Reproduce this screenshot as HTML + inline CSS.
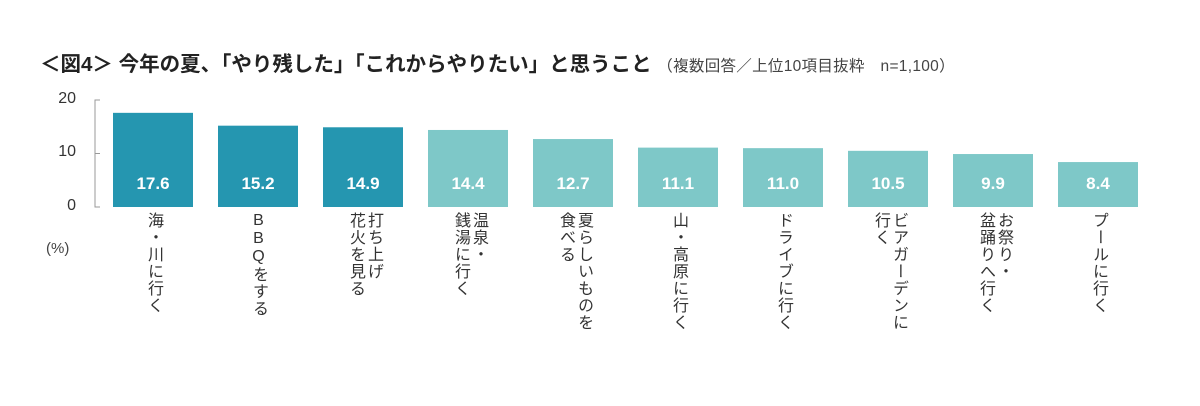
<!DOCTYPE html>
<html><head><meta charset="utf-8"><style>
body{margin:0;background:#fff;width:1200px;height:406px;overflow:hidden;font-family:"Liberation Sans","Noto Sans CJK JP",sans-serif;color:#222}
.t{position:absolute;left:40px;top:47px;font-size:20.5px;font-weight:bold;white-space:nowrap}
.t small{font-size:15.5px;font-weight:normal;color:#444;letter-spacing:0.3px}
.yl{position:absolute;font-size:16px;color:#333;text-align:right;width:40px}
.xl{position:absolute;top:212px;writing-mode:vertical-rl;text-orientation:upright;font-size:16px;line-height:18px;color:#333;letter-spacing:1px}
.v{position:absolute;width:80px;text-align:center;color:#fff;font-weight:bold;font-size:17px;top:174px}
</style></head><body>
<div class="t">＜図4＞ 今年の夏、「やり残した」「これからやりたい」と思うこと <small>（複数回答／上位10項目抜粋　n=1,100）</small></div>
<div class="yl" style="left:36px;top:90px">20</div>
<div class="yl" style="left:36px;top:143px">10</div>
<div class="yl" style="left:36px;top:197px">0</div>
<div style="position:absolute;left:46px;top:240px;font-size:15px;color:#444">(%)</div>
<svg id="c" width="1200" height="406" style="position:absolute;left:0;top:0"></svg>
<div id="lab"></div>
<script>
const categories=["海・川に行く","BBQをする","打ち上げ\n花火を見る","温泉・\n銭湯に行く","夏らしいものを\n食べる","山・高原に行く","ドライブに行く","ビアガーデンに\n行く","お祭り・\n盆踊りへ行く","プールに行く"];
const values=[17.6,15.2,14.9,14.4,12.7,11.1,11.0,10.5,9.9,8.4];
const highlight=[1,1,1,0,0,0,0,0,0,0];
const yTicks=[0,10,20];
const y=v=>207-v*5.35, x=i=>113+i*105;
const svg=document.getElementById('c'),ns="http://www.w3.org/2000/svg";
const ax=document.createElementNS(ns,'path');
ax.setAttribute('d',`M100 ${y(20)} H95 V${y(0)} H100 M95 ${y(10)} H100`);
ax.setAttribute('stroke','#999');ax.setAttribute('fill','none');


svg.appendChild(ax);
const lab=document.getElementById('lab');
values.forEach((v,i)=>{
const r=document.createElementNS(ns,'rect');
r.setAttribute('x',x(i));r.setAttribute('y',y(v));r.setAttribute('width',80);r.setAttribute('height',y(0)-y(v));
r.setAttribute('fill',highlight[i]?'#2596b0':'#7ec8c8');


svg.appendChild(r);
const d=document.createElement('div');d.className='v';d.style.left=x(i)+'px';d.textContent=v.toFixed(1);


lab.appendChild(d);
const l=document.createElement('div');l.className='xl';
const two=categories[i].includes('\n');
l.style.left=(x(i)+(two?23:31))+'px';
l.innerHTML=categories[i].replace('\n','<br>');


lab.appendChild(l);
});
</script>
</body></html>
